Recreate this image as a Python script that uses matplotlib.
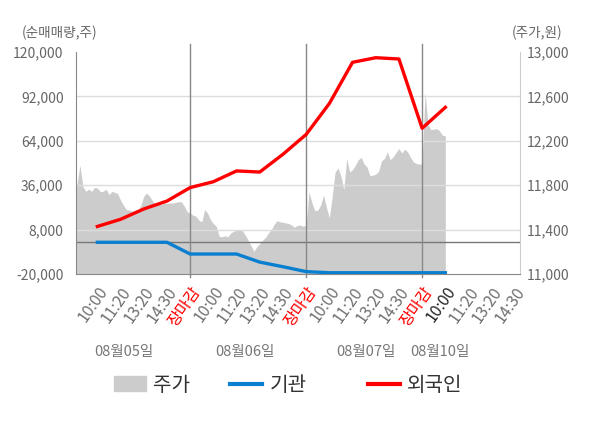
import matplotlib.pyplot as plt
import numpy as np
from matplotlib.patches import Patch
from matplotlib.lines import Line2D
from matplotlib.transforms import blended_transform_factory

plt.rcParams['font.family'] = ['Noto Sans CJK KR', 'DejaVu Sans']

# x tick labels (one per time slot)
tick_labels = ["10:00", "11:20", "13:20", "14:30", "장마감",
               "10:00", "11:20", "13:20", "14:30", "장마감",
               "10:00", "11:20", "13:20", "14:30", "장마감",
               "10:00", "11:20", "13:20", "14:30"]
day_labels = ["08월05일", "08월06일", "08월07일", "08월10일"]

# net buying (shares) at each time slot, slots 1..16
foreign = [10000, 14500, 21000, 26000, 34500, 38200, 45000, 44300,
           55500, 68000, 87500, 113500, 116400, 115600, 71900, 85100]
institution = [0, 0, 0, 0, -7400, -7400, -7400, -12500,
               -15400, -18500, -19200, -19200, -19200, -19200, -19200, -19200]

# price (won), 8 samples per slot
price_day1 = [11817, 11810, 11980, 11790, 11745, 11765, 11745, 11780, 11775, 11742,
              11745, 11765, 11715, 11745, 11735, 11725, 11665, 11620, 11580, 11575,
              11565, 11570, 11575, 11620, 11700, 11730, 11700, 11660, 11625, 11635,
              11625, 11640, 11635, 11640, 11640, 11645, 11652, 11650, 11610, 11560, 11550]
price_day2 = [11530, 11520, 11485, 11470, 11580, 11550, 11490, 11455, 11430, 11340,
              11335, 11345, 11335, 11370, 11385, 11395, 11400, 11390, 11350, 11305,
              11255, 11205, 11245, 11275, 11305, 11330, 11370, 11400, 11450, 11480,
              11470, 11465, 11460, 11455, 11440, 11420, 11440, 11440, 11430, 11440]
price_day3 = [11740, 11640, 11570, 11575, 11620, 11710, 11600, 11505, 11700, 11920,
              11955, 11880, 11760, 12040, 11920, 11940, 11980, 12030, 12050, 11990,
              11965, 11885, 11890, 11900, 11925, 12020, 12040, 12100, 12030, 12055,
              12095, 12130, 12090, 12125, 12100, 12050, 12010, 11995, 11990, 11990]
price_day4 = [12640, 12350, 12300, 12305, 12310, 12290, 12250, 12245]

price = np.array(price_day1 + price_day2 + price_day3 + price_day4)
px = np.arange(len(price)) / 8.0
slots = np.arange(1, len(foreign) + 1)

fig = plt.figure(figsize=(6, 4.28), dpi=100)
ax = fig.add_axes([0.1267, 0.3598, 0.74, 0.5187])
ax2 = ax.twinx()
ax.set_zorder(2)
ax2.set_zorder(1)
ax.patch.set_visible(False)
ax2.patch.set_facecolor('#f4f4f4')

ax2.fill_between(px, 11000, price, color='#cccccc', lw=0)
ax2.set_ylim(11000, 13000)
ax2.set_yticks(np.arange(11000, 13001, 400))
ax2.set_yticklabels([f"{v:,}" for v in np.arange(11000, 13001, 400)])

for v in [8000, 36000, 64000, 92000]:
    ax.axhline(v, color='#dcdcdc', lw=1, zorder=1)
ax.axhline(0, color='#777777', lw=1, zorder=1)
for s in [5, 10, 15]:
    ax.axvline(s, ymin=-0.015, ymax=1.035, color='#888888', lw=1, clip_on=False, zorder=1)

ax.plot(slots, institution, color='#0a7fd0', lw=2.4, zorder=3)
ax.plot(slots, foreign, color='#ff0000', lw=2.4, zorder=4)

ax.set_xlim(0.08, 19.22)
ax.set_ylim(-20000, 120000)
ax.set_yticks([-20000, 8000, 36000, 64000, 92000, 120000])
ax.set_yticklabels([f"{v:,}" for v in [-20000, 8000, 36000, 64000, 92000, 120000]])

ax.set_xticks(np.arange(1, 20))
ax.set_xticklabels(tick_labels, rotation=55, ha='right', rotation_mode='anchor')
for i, t in enumerate(ax.get_xticklabels()):
    if tick_labels[i] == "장마감":
        t.set_color('#ff0000')
    elif i == 15:
        t.set_color('#222222')
    else:
        t.set_color('#707070')

ax.tick_params(axis='x', length=0, pad=7, labelsize=11.5)
ax.tick_params(axis='y', length=0, pad=9, labelsize=10, labelcolor='#666666')
ax2.tick_params(axis='y', length=0, pad=5, labelsize=10, labelcolor='#666666')

for sp in ['top', 'right']:
    ax.spines[sp].set_visible(False)
ax.spines['left'].set_color('#888888')
ax.spines['bottom'].set_color('#888888')
for sp in ['top', 'left', 'bottom']:
    ax2.spines[sp].set_visible(False)
ax2.spines['right'].set_color('#cccccc')

trans = blended_transform_factory(ax.transData, fig.transFigure)
for x, lab in zip([2.15, 7.37, 12.57, 15.78], day_labels):
    ax.text(x, 0.177, lab, transform=trans, ha='center', va='center',
            fontsize=10.5, color='#777777')

fig.text(22 / 600, 1 - 33 / 428, "(순매매량,주)", ha='left', va='center',
         fontsize=9.8, color='#666666')
fig.text(562 / 600, 1 - 33 / 428, "(주가,원)", ha='right', va='center',
         fontsize=9.8, color='#666666')

# legend: three separate entries, placed like the original
handles = [Patch(color='#cccccc'),
           Line2D([0], [0], color='#0a7fd0', lw=3),
           Line2D([0], [0], color='#ff0000', lw=3)]
names = ["주가", "기관", "외국인"]
for h, name, x0 in zip(handles, names, [114, 230, 368]):
    fig.legend([h], [name], loc='center left', bbox_to_anchor=(x0 / 600, 0.1),
               frameon=False, fontsize=14.5, borderpad=0, borderaxespad=0,
               handlelength=1.6, handleheight=0.75, handletextpad=0.35,
               labelcolor='#333333')

fig.savefig('out.png', dpi=100)
